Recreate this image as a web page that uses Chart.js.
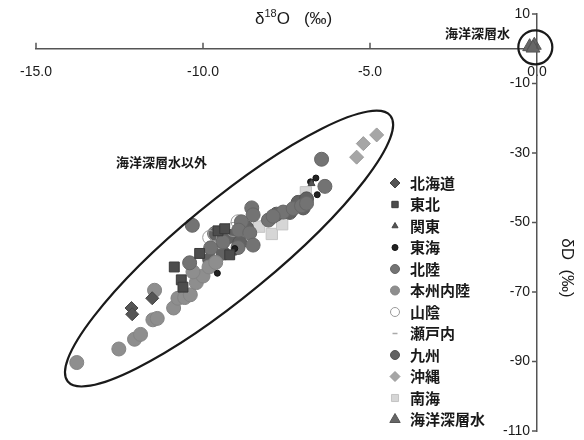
<!DOCTYPE html>
<html>
<head>
<meta charset="utf-8">
<script src="https://cdn.jsdelivr.net/npm/chart.js@4.4.0/dist/chart.umd.min.js"></script>
<style>
  html, body { margin: 0; padding: 0; background: #fff; }
  #wrap { width: 584px; height: 440px; }
</style>
</head>
<body>
<div id="wrap"><canvas id="myChart" width="584" height="440"></canvas></div>
<script>
// [δ18O, δD] per region (‰)
const hokkaido = [[-12.14, -74.6], [-12.12, -76.4], [-11.52, -71.8]];
const tohoku = [[-10.86, -62.8], [-10.65, -66.5], [-10.6, -68.6], [-10.1, -58.9], [-9.55, -52.4], [-9.35, -51.8], [-9.2, -59.3]];
const kanto = [[-9.1, -58.8], [-6.75, -38.8]];
const tokai = [[-6.62, -37.2], [-6.58, -42.0], [-6.78, -38.3], [-9.57, -64.6], [-9.05, -57.5]];
const hokuriku = [[-10.32, -50.8], [-6.45, -31.8], [-6.35, -39.6], [-8.54, -45.8], [-8.5, -47.8], [-8.04, -49.3], [-7.6, -47.0],
  [-7.3, -46.0], [-7.05, -45.2], [-6.9, -44.5], [-8.85, -49.8], [-8.93, -52.2], [-8.6, -53.0], [-8.5, -56.5],
  [-8.95, -57.2], [-9.4, -55.6], [-10.4, -61.6], [-9.77, -57.3], [-7.9, -48.2]];
const honshuInland = [[-13.78, -90.3], [-12.52, -86.4], [-12.05, -83.6], [-11.87, -82.2], [-11.5, -78.0], [-11.37, -77.6],
  [-11.45, -69.5], [-10.88, -74.6], [-10.75, -71.8], [-10.55, -71.6], [-10.38, -70.8], [-10.2, -67.3], [-10.0, -65.4],
  [-9.82, -62.8], [-9.62, -61.5], [-10.3, -64.2]];
const sanin = [[-9.8, -54.3], [-9.63, -53.3], [-9.1, -52.0], [-8.95, -49.8]];
const setouchi = [[-9.5, -57.5], [-7.0, -44.8], [-8.2, -49.5]];
const kyushu = [[-7.4, -47.1], [-7.15, -44.2], [-7.8, -47.6], [-9.2, -54.0], [-9.4, -58.8], [-9.8, -60.7], [-8.9, -55.8],
  [-8.7, -51.5], [-6.9, -43.2], [-7.0, -45.8], [-9.65, -53.2]];
const okinawa = [[-5.4, -31.2], [-5.2, -27.3], [-4.8, -24.8]];
const nankai = [[-6.92, -41.3], [-8.32, -51.2], [-7.94, -53.3], [-7.63, -50.5]];
const deepSea = [[-0.22, 0.6], [-0.08, 1.0], [-0.12, 0.2]];

const xTicks = [-15, -10, -5, 0];
const yTicks = [10, -10, -30, -50, -70, -90, -110];

const pts = arr => arr.map(p => ({x: p[0], y: p[1]}));

function series(label, data, style, r, fill, border, legendR) {
  return {
    label: label, data: pts(data), pointStyle: style, pointRadius: r, pointHoverRadius: r,
    backgroundColor: fill, borderColor: border, borderWidth: 1, legendRadius: legendR, clip: false
  };
}

const datasets = [
  series('北海道', hokkaido, 'rectRot', 6.5, '#555', '#444', 5),
  series('東北', tohoku, 'rect', 7, '#4d4d4d', '#3a3a3a', 4.5),
  series('関東', kanto, 'triangle', 4, '#555', '#444', 3.5),
  series('東海', tokai, 'circle', 3, '#222', '#111', 3),
  series('北陸', hokuriku, 'circle', 7, '#737373', '#666', 4.5),
  series('本州内陸', honshuInland, 'circle', 7, '#8e8e8e', '#848484', 4.5),
  series('山陰', sanin, 'circle', 7, 'rgba(255,255,255,0)', '#9a9a9a', 4.5),
  series('瀬戸内', setouchi, 'line', 3, '#aaa', '#aaa', 2.5),
  series('九州', kyushu, 'circle', 7, '#626262', '#555', 4.5),
  series('沖縄', okinawa, 'rectRot', 7, '#a6a6a6', '#9a9a9a', 5),
  series('南海', nankai, 'rect', 8, '#d6d6d6', '#c4c4c4', 5),
  series('海洋深層水', deepSea, 'triangle', 8, '#666', '#555', 6)
];

const textFont = '"Noto Sans CJK JP", "Noto Sans", sans-serif';

const decorations = {
  id: 'decorations',
  afterDatasetsDraw(chart) {
    const ctx = chart.ctx;
    const xs = chart.scales.x, ys = chart.scales.y;
    ctx.save();
    // ellipse around the non deep-sea samples
    ctx.strokeStyle = '#1a1a1a';
    ctx.lineWidth = 2.2;
    ctx.beginPath();
    ctx.ellipse(xs.getPixelForValue(-9.22), ys.getPixelForValue(-57.5), 209, 47.5, -39.5 * Math.PI / 180, 0, Math.PI * 2);
    ctx.stroke();
    // circle around deep sea water
    ctx.beginPath();
    ctx.arc(xs.getPixelForValue(-0.05), ys.getPixelForValue(0.4), 17, 0, Math.PI * 2);
    ctx.stroke();

    // tick marks
    ctx.strokeStyle = '#555';
    ctx.lineWidth = 1.5;
    const x0 = xs.getPixelForValue(0), y0 = ys.getPixelForValue(0);
    xs.ticks.forEach(t => {
      const px = xs.getPixelForValue(t.value);
      ctx.beginPath(); ctx.moveTo(px, y0); ctx.lineTo(px, y0 - 6); ctx.stroke();
    });
    ys.ticks.forEach(t => {
      const py = ys.getPixelForValue(t.value);
      ctx.beginPath(); ctx.moveTo(x0, py); ctx.lineTo(x0 - 5, py); ctx.stroke();
    });

    // labels
    ctx.fillStyle = '#1a1a1a';
    ctx.textBaseline = 'middle';
    ctx.font = 'bold 13px ' + textFont;
    ctx.textAlign = 'left';
    ctx.fillText('海洋深層水以外', 116, 162);
    ctx.textAlign = 'right';
    ctx.fillText('海洋深層水', 510, 33);

    // axis titles
    ctx.textAlign = 'left';
    ctx.font = '17px "Liberation Sans", Arial, sans-serif';
    let tx = 255;
    ctx.fillText('δ', tx, 19); tx += ctx.measureText('δ').width;
    ctx.font = '11px "Liberation Sans", Arial, sans-serif';
    ctx.fillText('18', tx, 14); tx += ctx.measureText('18').width;
    ctx.font = '17px "Liberation Sans", Arial, sans-serif';
    ctx.fillText('O', tx, 19); tx += ctx.measureText('O').width + 14;
    ctx.fillText('(‰)', tx, 19);

    ctx.translate(567, 268);
    ctx.rotate(Math.PI / 2);
    ctx.textAlign = 'center';
    ctx.fillText('δD  (‰)', 0, 0);
    ctx.restore();

    // legend
    ctx.save();
    ctx.font = 'bold 15px ' + textFont;
    ctx.textBaseline = 'middle';
    ctx.textAlign = 'left';
    chart.data.datasets.forEach((ds, i) => {
      const y = 183 + i * 21.5;
      ctx.fillStyle = ds.backgroundColor;
      ctx.strokeStyle = ds.borderColor;
      ctx.lineWidth = ds.pointStyle === 'line' ? 1.5 : 1;
      Chart.helpers.drawPoint(ctx, {pointStyle: ds.pointStyle, radius: ds.legendRadius, rotation: 0, borderWidth: 1}, 395, y);
      ctx.fillStyle = '#1a1a1a';
      ctx.fillText(ds.label, 410, y);
    });
    ctx.restore();
  }
};

new Chart(document.getElementById('myChart'), {
  type: 'scatter',
  data: {datasets: datasets},
  options: {
    responsive: false,
    animation: false,
    devicePixelRatio: 1,
    layout: {padding: {left: 36, right: 47, top: 14, bottom: 8}},
    plugins: {legend: {display: false}, tooltip: {enabled: false}, title: {display: false}},
    scales: {
      x: {
        type: 'linear', min: -15, max: 0, position: {y: 0},
        afterBuildTicks: s => { s.ticks = xTicks.map(v => ({value: v})); },
        grid: {display: false},
        border: {display: true, color: '#555', width: 1.5},
        ticks: {padding: 7, color: '#1a1a1a', font: {family: '"Liberation Sans", Arial, sans-serif', size: 14},
          callback: v => v.toFixed(1)}
      },
      y: {
        type: 'linear', min: -110, max: 10, position: {x: 0},
        afterBuildTicks: s => { s.ticks = yTicks.map(v => ({value: v})); },
        grid: {display: false},
        border: {display: true, color: '#555', width: 1.5},
        ticks: {padding: 0, color: '#1a1a1a', font: {family: '"Liberation Sans", Arial, sans-serif', size: 14},
          callback: v => String(v) + '\u2002'}
      }
    }
  },
  plugins: [decorations]
});
</script>
</body>
</html>
